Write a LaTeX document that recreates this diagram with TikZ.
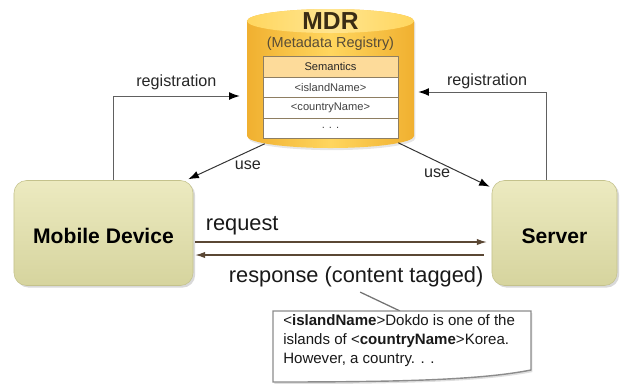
\documentclass[tikz,border=0pt]{standalone}
\usepackage{fontspec}
\setmainfont{Liberation Sans}
\usetikzlibrary{positioning,calc,shadows,arrows.meta}
\definecolor{boxtop}{HTML}{ECEAC0}
\definecolor{boxbot}{HTML}{D6D49E}
\definecolor{boxline}{HTML}{C4C28C}
\definecolor{mdredge}{HTML}{F0B030}
\definecolor{mdrmid}{HTML}{FFD65E}
\definecolor{mdrcap}{HTML}{FFE590}
\definecolor{mdrtext}{HTML}{3A2C14}
\definecolor{rowline}{HTML}{8E7E62}
\definecolor{rowhead}{HTML}{FDDB9A}
\definecolor{linkgray}{HTML}{606060}
\definecolor{msgbrown}{HTML}{5A4734}

\begin{document}
\begin{tikzpicture}[
  x = 0.025cm,
  y = -0.025cm,
  device/.style = {
    draw = boxline,
    rounded corners = 9pt,
    top color = boxtop,
    bottom color = boxbot,
    minimum height = 2.625cm,
    text height = 14.5pt,
    text depth = 0pt,
    font = \fontsize{15}{18}\selectfont\bfseries,
    drop shadow = {shadow xshift=1.5pt, shadow yshift=-1.5pt, opacity=0.3},
  },
  row/.style = {
    draw = rowline,
    line width = 0.6pt,
    fill = white,
    minimum width = 3.375cm,
    minimum height = 0.51cm,
    inner sep = 0pt,
    outer sep = 0pt,
    text = black!75,
    font = \fontsize{7.9}{9}\selectfont,
  },
  head/.style = {
    row,
    fill = rowhead,
    text = black!85,
  },
  tag/.style = {
    inner sep = 0pt,
    text = black!85,
    font = \fontsize{11.5}{13}\selectfont,
  },
  msg/.style = {
    inner sep = 0pt,
    text = black!90,
    font = \fontsize{15.5}{18}\selectfont,
  },
  reg/.style = {
    draw = linkgray,
    line width = 0.7pt,
    -{Latex[length=7.5pt,width=5.5pt,color=black]},
  },
  use/.style = {
    draw = black!80,
    line width = 0.7pt,
    -{Latex[length=7.5pt,width=5.5pt,color=black]},
  },
  req/.style = {
    draw = msgbrown,
    line width = 0.8pt,
    -{Latex[length=7pt,width=4.5pt]},
  },
]

  \useasboundingbox (0,0) rectangle (622,383);

  % registry cylinder
  \shade[left color=mdredge, right color=mdredge, middle color=mdrmid,
    drop shadow={shadow xshift=1pt, shadow yshift=-1.5pt, opacity=0.2}]
    (247,21) -- (247,136)
    arc[start angle=180, end angle=360, x radius=2.0875cm, y radius=0.3cm]
    -- (414,21)
    arc[start angle=0, end angle=180, x radius=2.0875cm, y radius=0.3cm]
    -- cycle;
  \shade[left color=mdrmid, right color=mdrmid, middle color=mdrcap]
    (330.5,21) ellipse[x radius=2.0875cm, y radius=0.3cm];
  \node[minimum width=4.175cm, minimum height=3.5cm, inner sep=0pt] (mdr) at (330.5,78.5) {};

  \node[anchor=base, inner sep=0pt, text=mdrtext, font=\fontsize{17.5}{20}\selectfont\bfseries] (mdrname) at (330.5,29) {MDR};
  \node[anchor=base, inner sep=0pt, text=mdrtext!85, font=\fontsize{10.3}{12}\selectfont] (mdrsub) at (330.5,47) {(Metadata Registry)};

  \node[head] (sem) at (330.5,67) {Semantics};
  \node[row] (island) [below=0pt of sem] {<islandName>};
  \node[row] (country) [below=0pt of island] {<countryName>};
  \node[row] (more) [below=0pt of country] {. . .};

  % devices
  \node[device, minimum width=4.475cm] (mobile) at (103.5,233) {Mobile Device};
  \node[device, minimum width=3.125cm] (server) at (554.5,233) {Server};

  \draw[reg] ($(mobile.north)+(9.5,0)$) |- ($(mdr.west)+(-7,17.5)$)
    node[tag, pos=0.75, anchor=base, yshift=7.1pt] (regleft) {registration};
  \draw[reg] ($(server.north)+(-8.5,0)$) |- ($(mdr.east)+(4,13.5)$)
    node[tag, pos=0.75, anchor=base, xshift=3.5pt, yshift=4.3pt] (regright) {registration};

  \draw[use] ($(mdr.south west)+(18,-5)$) -- ($(mobile.north east)+(-5,-1)$)
    node[tag, pos=0.22, anchor=base, yshift=-12.5pt] (useleft) {use};
  \draw[use] ($(mdr.south east)+(-16,-6)$) -- ($(server.north west)+(-2,6.5)$)
    node[tag, pos=0.424, anchor=base, yshift=-11.1pt] (useright) {use};

  \draw[req] ($(mobile.east)+(2,9)$) -- ($(server.west)+(-5,9)$)
    node[msg, pos=0, anchor=base west, xshift=7.1pt, yshift=8.5pt] (reqtxt) {request};
  \draw[req] ($(server.west)+(-8,22)$) -- ($(mobile.east)+(2,22)$)
    node[msg, pos=1, anchor=base west, xshift=23.5pt, yshift=-19.2pt] (resp) {response (content tagged)};

  % tagged content callout
  \coordinate (notetop) at (400,311);
  \draw[draw=black!55, line width=0.9pt] ($(resp.south)+(4,5)$) -- (notetop);
  \filldraw[fill=white, draw=black!45, line width=1pt,
    drop shadow={shadow xshift=1pt, shadow yshift=-1.5pt, opacity=0.25}]
    (273,311) -- (531,311) -- (531,370)
    .. controls (480,380) and (400,382) .. (273,382) -- cycle;
  \node[anchor=north west, inner sep=0pt, align=left, text=black!90,
    font=\fontsize{10.7}{13.5}\selectfont] (note) at (283,314)
    {<\textbf{islandName}>Dokdo is one of the\\
     islands of <\textbf{countryName}>Korea.\\
     However, a country. . .};

\end{tikzpicture}
\end{document}
